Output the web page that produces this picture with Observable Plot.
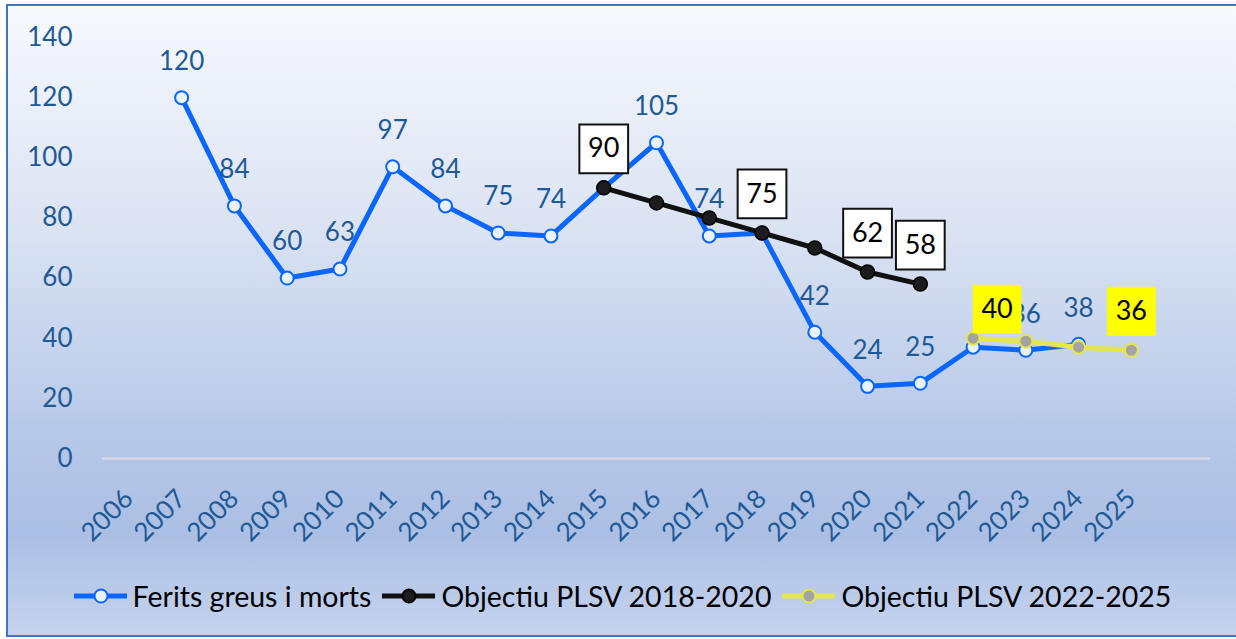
<!DOCTYPE html>
<html><head><meta charset="utf-8">
<script src="https://cdn.jsdelivr.net/npm/d3@7"></script>
<script src="https://cdn.jsdelivr.net/npm/@observablehq/plot@0.6"></script>
<style>
body{margin:0;background:#fff;font-family:Lato,"Open Sans",sans-serif;overflow:hidden}
#frame{position:absolute;left:6px;top:4px;width:1228px;height:629px;border:2px solid #4472c4;border-right:none;
background:linear-gradient(to bottom,#f7f9fd 0%,#dbe3f3 35%,#b7c8e8 68%,#abbfe4 84%,#c5d3ee 100%);overflow:hidden}
#chart{position:absolute;left:0;top:0}
#legend{position:absolute;left:0;top:573px;width:100%;display:flex;justify-content:center;align-items:center;font-size:28.5px;color:#000;white-space:nowrap}
.item{display:flex;align-items:center;margin:0 5px}
.item svg{margin-right:5px}
</style></head>
<body>
<div id="frame"><div id="chart"></div><div id="legend"></div></div>
<script>
const years = [2006,2007,2008,2009,2010,2011,2012,2013,2014,2015,2016,2017,2018,2019,2020,2021,2022,2023,2024,2025];
const feritsYears = [2007,2008,2009,2010,2011,2012,2013,2014,2015,2016,2017,2018,2019,2020,2021,2022,2023,2024];
const feritsValues = [120,84,60,63,97,84,75,74,90,105,74,75,42,24,25,37,36,38];
const feritsLabelYears = [2007,2008,2009,2010,2011,2012,2013,2014,2016,2017,2019,2020,2021,2023,2024];
const obj1Years = [2015,2016,2017,2018,2019,2020,2021];
const obj1Values = [90,85,80,75,70,62,58];
const obj1LabelYears = [2015,2018,2020,2021];
const obj2Years = [2022,2023,2024,2025];
const obj2Values = [40,39,37,36];
const obj2LabelYears = [2022,2025];
const yTicks = [0,20,40,60,80,100,120,140];
const seriesNames = ["Ferits greus i morts","Objectiu PLSV 2018-2020","Objectiu PLSV 2022-2025"];

const ferits = feritsYears.map((y,i)=>({year:y,value:feritsValues[i]}));
const obj1 = obj1Years.map((y,i)=>({year:y,value:obj1Values[i]}));
const obj2 = obj2Years.map((y,i)=>({year:y,value:obj2Values[i]}));
const feritsLab = ferits.filter(d=>feritsLabelYears.includes(d.year));
const obj1Lab = obj1.filter(d=>obj1LabelYears.includes(d.year));
const obj2Lab = obj2.filter(d=>obj2LabelYears.includes(d.year));

const BLUE="#0a66ff", TICK="#1f5a96", YEL="#e3e64e";
const font = "Lato, sans-serif";

const chart = Plot.plot({
  width:1228, height:570,
  marginLeft:94, marginRight:26, marginTop:31, marginBottom:118,
  style:{background:"transparent", fontFamily:font, fontSize:"26px", color:TICK},
  x:{type:"linear", domain:[2005.5,2026.5]},
  y:{domain:[0,140]},
  marks:[
    Plot.ruleY([0],{stroke:"#d9dde4",strokeWidth:2}),
    Plot.axisY({ticks:yTicks, tickSize:0, tickPadding:30, label:null, fill:TICK, fontSize:26}),
    Plot.axisX({ticks:years, tickFormat:d=>String(d), tickSize:0, tickPadding:36, tickRotate:-45, label:null, fill:TICK, fontSize:26}),
    Plot.line(ferits,{x:"year",y:"value",stroke:BLUE,strokeWidth:5}),
    Plot.dot(ferits,{x:"year",y:"value",r:6.5,fill:"#eaf2fc",stroke:BLUE,strokeWidth:2}),
    Plot.text(feritsLab,{x:"year",y:"value",text:d=>String(d.value),dy:-36,fill:TICK,fontSize:26}),
    Plot.line(obj1,{x:"year",y:"value",stroke:"#111",strokeWidth:5}),
    Plot.dot(obj1,{x:"year",y:"value",r:7,fill:"#1c1c1c",stroke:"#000",strokeWidth:1.5}),
    Plot.dot(obj1Lab,{x:"year",y:"value",symbol:"square",r:27.5,dy:-39,fill:"#fff",stroke:"#111",strokeWidth:2}),
    Plot.text(obj1Lab,{x:"year",y:"value",text:d=>String(d.value),dy:-39,fill:"#000",fontSize:27}),
    Plot.line(obj2,{x:"year",y:"value",stroke:YEL,strokeWidth:5}),
    Plot.dot(obj2,{x:"year",y:"value",r:6.5,fill:"#a3a3a3",stroke:YEL,strokeWidth:2}),
    Plot.dot(obj2Lab.filter(d=>d.year===obj2LabelYears[0]),{x:"year",y:"value",symbol:"square",r:27.5,dx:24,dy:-29,fill:"#ffff00"}),
    Plot.text(obj2Lab.filter(d=>d.year===obj2LabelYears[0]),{x:"year",y:"value",text:d=>String(d.value),dx:24,dy:-29,fill:"#000",fontSize:27}),
    Plot.dot(obj2Lab.filter(d=>d.year!==obj2LabelYears[0]),{x:"year",y:"value",symbol:"square",r:27.5,dy:-39,fill:"#ffff00"}),
    Plot.text(obj2Lab.filter(d=>d.year!==obj2LabelYears[0]),{x:"year",y:"value",text:d=>String(d.value),dy:-39,fill:"#000",fontSize:27})
  ]
});
document.getElementById("chart").appendChild(chart);

const sw = [
  {stroke:BLUE, fill:"#eaf2fc", ms:BLUE},
  {stroke:"#111", fill:"#1c1c1c", ms:"#000"},
  {stroke:YEL, fill:"#a3a3a3", ms:YEL}
];
const leg = document.getElementById("legend");
seriesNames.forEach((n,i)=>{
  const it = document.createElement("div"); it.className="item";
  it.innerHTML = `<svg width="55" height="20"><line x1="1" x2="54" y1="10" y2="10" stroke="${sw[i].stroke}" stroke-width="5"/><circle cx="28" cy="10" r="6.5" fill="${sw[i].fill}" stroke="${sw[i].ms}" stroke-width="2"/></svg><span>${n}</span>`;
  leg.appendChild(it);
});
</script>
</body></html>
